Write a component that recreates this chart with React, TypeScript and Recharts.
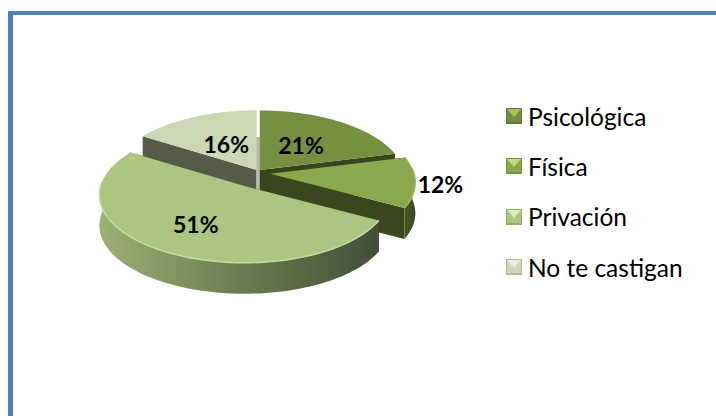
import { Legend, Pie, PieChart } from "recharts"

const categories = ["Psicológica", "Física", "Privación", "No te castigan"]
const percentages = [21, 12, 51, 16]

// pie layers are painted in data order, so the back slice goes first
const drawOrder = [3, 0, 1, 2]
const pieData = drawOrder.map((i) => ({ name: categories[i], value: percentages[i] }))

const topColors = ["#768f40", "#8aa94e", "#acc580", "#ccd8b5"]
const rimColors = ["#8ba550", "#a0bd62", "#c6dca0", "#dde6cc"]
const cutColors = ["#38441c", "#3a471d", "#47523a", "#565b48"]
const wallLeft = ["#5f7432", "#4a5c24", "#9db077", "#8f9a7c"]
const wallMid = ["#5f7432", "#3f4f20", "#6f8252", "#8f9a7c"]
const wallRight = ["#3f4c20", "#3a471c", "#434e38", "#6a7058"]
const iconTop = ["#a3c25c", "#c0dc74", "#dcecb4", "#eaf0e0"]
const iconBottom = ["#5f7634", "#78943f", "#95ac6c", "#aebb9a"]
const explode = [0.02, 0.085, 0.18, 0.02]
const sinkBy = [0, 2, 4.5, 0]
const labelRadius = [0.49, 1.17, 0.62, 0.46]

const RY = 67
const TILT = 0.126
const DEPTH = 31

const project = (angle: number, radius: number, r: number) => {
  const u = Math.cos((angle * Math.PI) / 180)
  const v = -Math.sin((angle * Math.PI) / 180)
  const s = 1 / (1 - TILT * v * r)
  return { x: radius * r * u * s, y: RY * r * v * s }
}

const sliceCenter = (cx: number, cy: number, mid: number, radius: number, i: number) => {
  const p = project(mid, radius, explode[i])
  return { x: cx + p.x, y: cy + p.y + sinkBy[i] }
}

const arcPoints = (from: number, to: number, radius: number) => {
  const steps = Math.max(2, Math.ceil(Math.abs(to - from) / 2))
  const pts = []
  for (let k = 0; k <= steps; k++) {
    pts.push(project(from + ((to - from) * k) / steps, radius, 1))
  }
  return pts
}

const toPath = (pts: { x: number; y: number }[]) =>
  pts.map((p, k) => `${k === 0 ? "M" : "L"}${p.x.toFixed(1)} ${p.y.toFixed(1)}`).join(" ") + " Z"

const Slice3D = (props: any) => {
  const { cx, cy, outerRadius, startAngle, endAngle, name } = props
  const i = categories.indexOf(name)
  const mid = (startAngle + endAngle) / 2
  const c = sliceCenter(cx, cy, mid, outerRadius, i)
  const arc = arcPoints(startAngle, endAngle, outerRadius)
  const first = arc[0]
  const last = arc[arc.length - 1]
  const o = { x: 0, y: 0 }
  const down = (p: { x: number; y: number }) => ({ x: p.x, y: p.y + DEPTH })

  const frontArc = arc.filter((p) => p.y >= -6)
  const gradId = `wall-${i}`

  return (
    <g transform={`translate(${c.x} ${c.y})`}>
      <defs>
        <linearGradient id={gradId} x1="0" y1="0" x2="1" y2="0">
          <stop offset="0%" stopColor={wallLeft[i]} />
          <stop offset="45%" stopColor={wallMid[i]} />
          <stop offset="100%" stopColor={wallRight[i]} />
        </linearGradient>
      </defs>
      {i === 0 && <line x1={-1.5} x2={-1.5} y1={-33} y2={DEPTH} stroke="#b8bcae" strokeWidth={4} />}
      <path d={toPath([o, first, down(first), down(o)])} fill={cutColors[i]} />
      <path d={toPath([o, last, down(last), down(o)])} fill={cutColors[i]} />
      {frontArc.length > 1 && (
        <path d={toPath([...frontArc, ...frontArc.map(down).reverse()])} fill={`url(#${gradId})`} />
      )}
      <path d={toPath([o, ...arc])} fill={topColors[i]} />
      {frontArc.length > 1 && (
        <path
          d={frontArc.map((p, k) => `${k === 0 ? "M" : "L"}${p.x.toFixed(1)} ${p.y.toFixed(1)}`).join(" ")}
          fill="none"
          stroke={rimColors[i]}
          strokeWidth={1.5}
        />
      )}
    </g>
  )
}

const renderLabel = (props: any) => {
  const { cx, cy, midAngle, name, value } = props
  const i = categories.indexOf(name)
  const outer = 144
  const c = sliceCenter(cx, cy, midAngle, outer, i)
  const p = project(midAngle, outer, labelRadius[i])
  return (
    <text
      x={c.x + p.x}
      y={c.y + p.y}
      textAnchor="middle"
      dominantBaseline="central"
      fontFamily="Lato"
      fontWeight={700}
      fontSize={23}
      fill="#000"
    >
      {value}%
    </text>
  )
}

const LegendIcon = ({ i }: { i: number }) => (
  <svg width={16} height={16} style={{ display: "block", marginRight: 6, flex: "none" }}>
    <rect width={16} height={16} fill={topColors[i]} />
    <polygon points="1,1 15,1 8,9" fill={iconTop[i]} />
    <rect y={14} width={16} height={2} fill={iconBottom[i]} />
    <rect width={1} height={16} fill={iconBottom[i]} />
    <rect x={15} width={1} height={16} fill={iconBottom[i]} />
    <rect width={16} height={1} fill={iconBottom[i]} />
  </svg>
)

const renderLegend = () => (
  <div style={{ fontFamily: "Lato", fontSize: 24.5, color: "#000" }}>
    {categories.map((name, i) => (
      <div key={name} style={{ display: "flex", alignItems: "center", height: 50.3 }}>
        <LegendIcon i={i} />
        <span style={{ whiteSpace: "nowrap" }}>{name}</span>
      </div>
    ))}
  </div>
)

export default function App() {
  return (
    <div style={{ position: "absolute", left: 0, top: 0, width: 716, height: 416, overflow: "hidden", background: "#fff" }}>
      <div
        style={{
          position: "absolute",
          left: 8,
          top: 11,
          width: 708,
          height: 405,
          boxSizing: "border-box",
          borderLeft: "5px solid #4f81bd",
          borderTop: "4px solid #4f81bd",
        }}
      />
      <div style={{ position: "absolute", left: 0, top: 0 }}>
        <PieChart width={716} height={416} margin={{ top: 0, right: 0, bottom: 0, left: 0 }}>
          <Pie
            data={pieData}
            dataKey="value"
            nameKey="name"
            cx={258}
            cy={171}
            outerRadius={144}
            startAngle={147.6}
            endAngle={-212.4}
            stroke="none"
            shape={Slice3D}
            label={renderLabel}
            labelLine={false}
            isAnimationActive={false}
          />
          <Legend
            layout="vertical"
            align="right"
            verticalAlign="top"
            content={renderLegend}
            wrapperStyle={{ left: 506, top: 91, width: 200 }}
          />
        </PieChart>
      </div>
    </div>
  )
}
